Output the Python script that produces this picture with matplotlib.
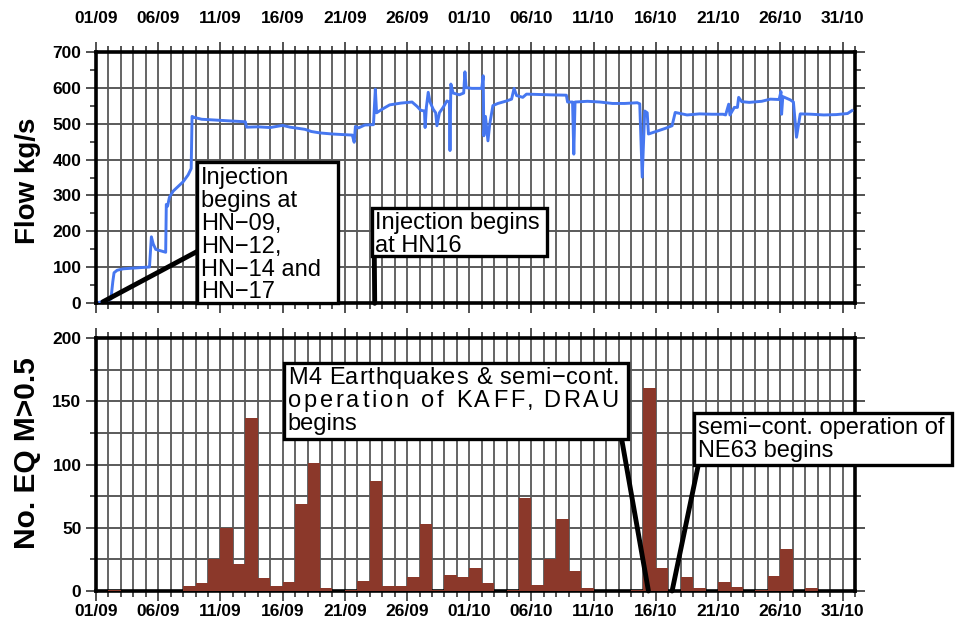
import matplotlib
matplotlib.use("Agg")
import matplotlib.pyplot as plt
from matplotlib.patches import Rectangle
from matplotlib.ticker import MultipleLocator
import numpy as np

plt.rcParams["font.family"] = ["Liberation Sans", "DejaVu Sans"]

W, H = 955, 630  # figure size in pixels (dpi 100)

# days counted from 01/09
date_ticks = np.arange(0, 61, 5)
date_labels = ["01/09", "06/09", "11/09", "16/09", "21/09", "26/09", "01/10",
               "06/10", "11/10", "16/10", "21/10", "26/10", "31/10"]

# injection flow rate (kg/s)
flow_day = [0.3, 0.9, 1.2, 1.35, 1.45, 1.7, 2.2, 3.0, 4.3, 4.45, 4.6, 4.8, 5.2,
            5.6, 5.65, 5.75, 5.9, 6.2, 6.6, 7.0, 7.4, 7.65, 7.72, 7.9, 8.5,
            9.5, 10.5, 11.5, 12.0, 12.1, 13.0, 14.0, 15.0, 15.6, 16.0, 16.8,
            17.3, 18.0, 19.0, 20.0, 20.6, 20.75, 20.85, 21.1, 21.6, 22.3,
            22.45, 22.55, 23.0, 23.6, 24.5, 25.4, 25.8, 26.1, 26.4, 26.45,
            26.55, 26.7, 26.85, 27.1, 27.3, 27.4, 27.6, 27.9, 28.2, 28.4,
            28.45, 28.52, 28.7, 29.2, 29.55, 29.65, 29.75, 30.2, 31.0, 31.12,
            31.17, 31.3, 31.5, 31.65, 31.9, 32.3, 33.0, 33.4, 33.6, 33.8,
            34.3, 34.6, 35.5, 36.5, 37.8, 37.9, 38.3, 38.4, 38.5, 39.5, 40.5,
            41.5, 42.5, 43.5, 43.7, 43.9, 44.1, 44.3, 44.4, 45.0, 45.7, 46.3,
            46.55, 47.5, 48.5, 49.5, 50.4, 50.6, 50.85, 50.95, 51.3, 51.55,
            51.65, 51.9, 52.5, 53.5, 54.2, 54.9, 55.05, 55.1, 55.2, 55.8,
            56.05, 56.3, 56.6, 57.5, 58.5, 59.5, 60.4, 60.75]
flow_kgs = [3, 8, 12, 60, 85, 92, 96, 98, 101, 185, 165, 150, 146,
            142, 275, 270, 295, 312, 325, 338, 357, 375, 520, 517, 512,
            510, 508, 506, 505, 490, 491, 489, 495, 490, 488, 484,
            478, 474, 471, 469, 468, 448, 492, 488, 496, 497,
            596, 530, 540, 552, 557, 560, 548, 537, 535, 489,
            545, 587, 560, 540, 530, 494, 530, 545, 563, 560,
            425, 610, 585, 580, 585, 644, 600, 598, 598, 633,
            466, 520, 452, 500, 550, 556, 563, 568, 598, 578,
            573, 582, 581, 580, 579, 560, 560, 415, 560, 562, 560,
            556, 556, 558, 555, 351, 535, 530, 471, 478, 486, 494,
            531, 524, 527, 526, 526, 524, 554, 524, 545, 545,
            573, 561, 559, 562, 568, 567, 589, 526, 575, 566,
            560, 462, 527, 526, 524, 525, 528, 536]

# daily number of earthquakes with M > 0.5
eq_day = np.arange(61)
eq_count = [0, 1, 0, 0, 0, 0, 0, 4, 6, 25, 50, 21, 137, 10, 4, 7, 69, 101, 2, 0,
            1, 8, 87, 4, 4, 11, 53, 1, 13, 11, 18, 6, 0, 1, 74, 5, 25, 57, 16, 2,
            0, 0, 0, 1, 161, 18, 0, 11, 2, 0, 7, 3, 0, 1, 12, 33, 0, 2, 0, 0, 0]

date_font = dict(family=["Liberation Sans Narrow", "Liberation Sans"],
                 weight="bold", size=12.5)
box_font = dict(family=["Liberation Sans", "DejaVu Sans"], size=17)

fig = plt.figure(figsize=(W / 100, H / 100), dpi=100)
ax1 = fig.add_axes([96 / W, 1 - 303.3 / H, 759 / W, 251.6 / H])
ax2 = fig.add_axes([96 / W, 1 - 591 / H, 759 / W, 252.7 / H])


def style_axes(ax, ymax, ymajor, yminor, top_labels):
    ax.set_xlim(0, 61)
    ax.set_ylim(0, ymax)
    ax.set_axisbelow(True)
    ax.set_xticks(date_ticks)
    ax.set_xticklabels(date_labels, **date_font)
    ax.xaxis.set_minor_locator(MultipleLocator(1))
    ax.yaxis.set_major_locator(MultipleLocator(ymajor))
    ax.yaxis.set_minor_locator(MultipleLocator(yminor))
    for lab in ax.get_yticklabels():
        lab.set_fontweight("bold")
        lab.set_fontsize(12.5)
    ax.tick_params(which="both", direction="out", top=True, bottom=True,
                   left=True, right=True, width=1.1, color="#222222")
    ax.tick_params(which="major", length=7.5)
    ax.tick_params(which="minor", length=4)
    ax.tick_params(axis="y", which="major", pad=3)
    if top_labels:
        ax.tick_params(axis="x", labelbottom=False, labeltop=True, pad=11)
    else:
        ax.tick_params(axis="x", labelbottom=True, labeltop=False, pad=2)
    ax.grid(axis="x", which="both", color="#3a3a3a", lw=1.1)
    for sp in ax.spines.values():
        sp.set_linewidth(2.6)


# flow panel
style_axes(ax1, 700, 100, 50, top_labels=True)
ax1.grid(axis="y", which="major", color="#5a5a5a", lw=1.4)
ax1.plot(flow_day, flow_kgs, color="#4677f0", lw=2.1, zorder=3)
ax1.set_ylabel("Flow kg/s", fontsize=20, fontweight="bold")
ax1.yaxis.set_label_coords(-0.072, 0.485)

# earthquake panel
style_axes(ax2, 200, 50, 25, top_labels=False)
ax2.grid(axis="y", which="both", color="#5a5a5a", lw=1.4)
ax2.bar(eq_day, eq_count, width=1.0, align="edge", color="#8b382a", zorder=3)
ax2.set_ylabel("No. EQ M>0.5", fontsize=21.5, fontweight="bold")
ax2.yaxis.set_label_coords(-0.072, 0.545)


# pointer lines: data point -> box edge (figure pixels)
def pointer(ax, day, val, px, py):
    ax.annotate("", xy=(day, val), xycoords="data",
                xytext=(px / W, 1 - py / H), textcoords="figure fraction",
                arrowprops=dict(arrowstyle="-", lw=3.5, color="black",
                                shrinkA=0, shrinkB=0),
                annotation_clip=False, zorder=4)


def box(x0, y0, x1, y1):
    fig.add_artist(Rectangle((x0 / W, 1 - y1 / H), (x1 - x0) / W,
                             (y1 - y0) / H, transform=fig.transFigure,
                             facecolor="white", edgecolor="black", lw=2.4,
                             zorder=5))


def lines(x0, base0, step, rows):
    for i, row in enumerate(rows):
        fig.text(x0 / W, 1 - (base0 + i * step) / H, row, va="baseline",
                 ha="left", zorder=6, **box_font)


def justified(x0, base, width, s):
    r = fig.canvas.get_renderer()

    def w(txt):
        t = fig.text(0, 0, txt + "|", **box_font)
        e = t.get_window_extent(r).width
        t.remove()
        return e

    ref = w("")
    pre = [w(s[:i]) - ref for i in range(len(s) + 1)]
    extra = (width - pre[-1]) / (len(s) - 1)
    for i, ch in enumerate(s):
        if ch != " ":
            fig.text((x0 + pre[i] + extra * i) / W, 1 - base / H, ch,
                     va="baseline", ha="left", zorder=6, **box_font)


pointer(ax1, 0.55, 4, 196.7, 251.7)
box(196.7, 161.7, 338, 303.3)
lines(200.7, 184.0, 22.9, ["Injection", "begins at", "HN\u221209,",
                           "HN\u221212,", "HN\u221214 and", "HN\u221217"])

pointer(ax1, 22.4, 0, 374.3, 256)
box(371.7, 208.3, 546.7, 256)
lines(375, 228.5, 23.2, ["Injection begins", "at HN16"])

pointer(ax2, 44.4, 0, 621.7, 439.3)
box(284.3, 363.3, 628.3, 439.3)
justified(287.7, 384.3, 332, "M4 Earthquakes & semi\u2212cont.")
justified(287.7, 407.3, 331, "operation of KAFF, DRAU")
lines(287.7, 430.3, 23, ["begins"])

pointer(ax2, 46.3, 0, 698.3, 465)
box(694.3, 412.7, 952, 465)
lines(698.3, 434.0, 22.7, ["semi\u2212cont. operation of", "NE63 begins"])

fig.savefig("out.png", dpi=100)
